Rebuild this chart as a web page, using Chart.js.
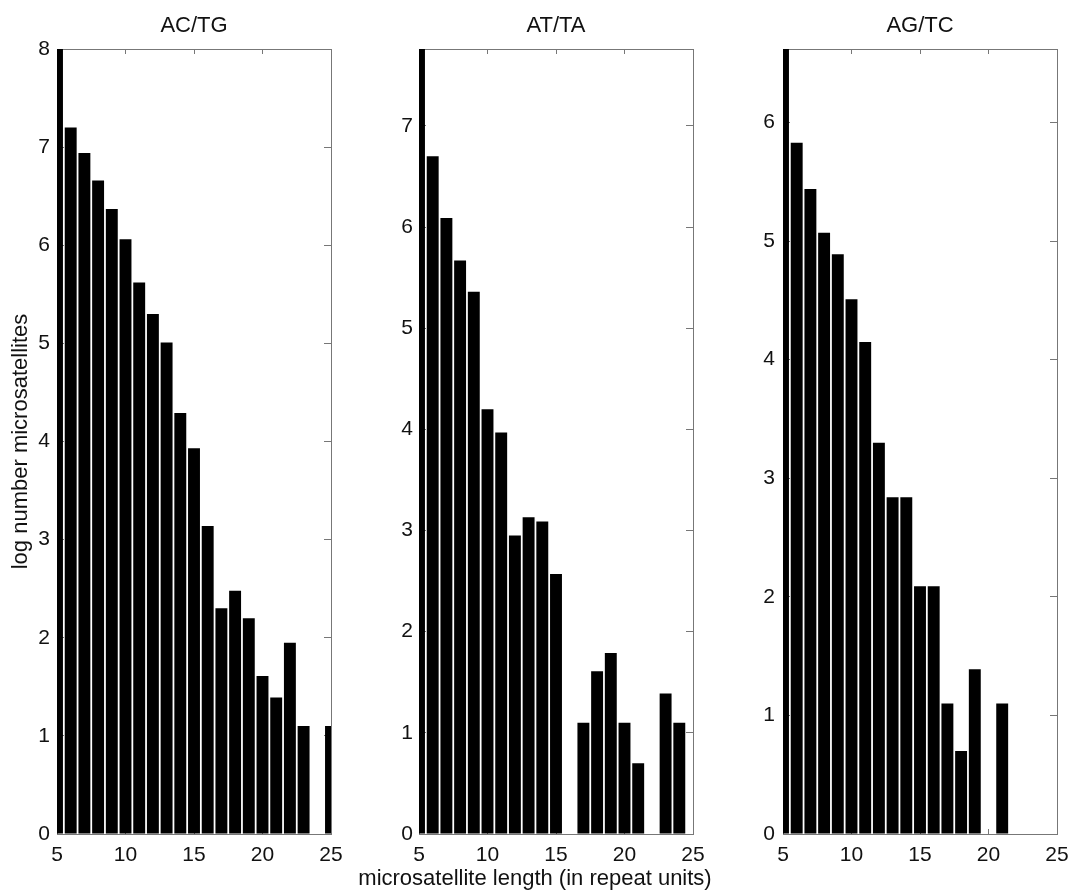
<!DOCTYPE html>
<html>
<head>
<meta charset="utf-8">
<script src="https://cdn.jsdelivr.net/npm/chart.js@4/dist/chart.umd.min.js"></script>
<style>
  html, body { margin: 0; padding: 0; background: #fff; }
  #wrap { position: relative; width: 1070px; height: 891px; overflow: hidden; }
  canvas { position: absolute; top: 0; }
</style>
</head>
<body>
<div id="wrap">
  <canvas id="c1" width="360" height="891" style="left:0px"></canvas>
  <canvas id="c2" width="380" height="891" style="left:339px"></canvas>
  <canvas id="c3" width="327" height="891" style="left:743px"></canvas>
</div>
<script>
// repeat lengths (bin centres)
const lengths = [5, 6, 7, 8, 9, 10, 11, 12, 13, 14, 15, 16, 17, 18, 19, 20, 21, 22, 23, 24, 25]

// log number of microsatellites per length
const acTg = [8.00, 7.20, 6.94, 6.66, 6.37, 6.06, 5.62, 5.30, 5.01, 4.29, 3.93, 3.14, 2.30, 2.48, 2.20, 1.61, 1.39, 1.95, 1.10, 0, 1.10]
const atTa = [7.76, 6.70, 6.09, 5.67, 5.36, 4.20, 3.97, 2.95, 3.13, 3.09, 2.57, 0, 1.10, 1.61, 1.79, 1.10, 0.70, 0, 1.39, 1.10, 0]
const agTc = [6.62, 5.83, 5.44, 5.07, 4.89, 4.51, 4.15, 3.30, 2.84, 2.84, 2.09, 2.09, 1.10, 0.70, 1.39, 0, 1.10, 0, 0, 0, 0]

const titles = ["AC/TG", "AT/TA", "AG/TC"]
const xTickStep = 5
const yLabel = "log number microsatellites"
const xLabel = "microsatellite length (in repeat units)"

const fontFamily = "'Liberation Sans', Arial, Helvetica, sans-serif"
Chart.defaults.font.family = fontFamily
Chart.defaults.font.size = 21
Chart.defaults.color = "#111"

const frame = "#777"

// x label is wider than the plot and centred on the whole figure,
// so draw it here instead of through the scale title (which squeezes it)
const bottomLabel = {
    id: "bottomLabel",
    afterDraw(chart, args, opts) {
        if (!opts.text) return
        const ctx = chart.ctx
        ctx.save()
        ctx.font = "22px " + fontFamily
        ctx.fillStyle = "#111"
        ctx.textAlign = "center"
        ctx.textBaseline = "middle"
        ctx.fillText(opts.text, opts.x, opts.y)
        ctx.restore()
    }
}

function panel(id, title, values, opts) {
    const ymax = Math.max(...values)
    const inward = (len) => ({ drawOnChartArea: false, drawTicks: true, tickLength: -len, color: frame, tickColor: frame, tickWidth: 1 })
    const edge = { display: true, color: frame, width: 1 }
    const noPad = (s) => { s.paddingLeft = 0; s.paddingRight = 0; s.paddingTop = 0; s.paddingBottom = 0 }

    return new Chart(document.getElementById(id), {
        type: "bar",
        data: {
            datasets: [{
                data: lengths.map((x, i) => ({ x: x, y: values[i] })),
                backgroundColor: "#000",
                borderWidth: 0,
                barPercentage: 0.87,
                categoryPercentage: 1
            }]
        },
        plugins: [bottomLabel],
        options: {
            responsive: false,
            animation: false,
            devicePixelRatio: 1,
            layout: { padding: { left: opts.padLeft, right: opts.padRight, top: 0, bottom: 0 } },
            plugins: {
                legend: { display: false },
                tooltip: { enabled: false },
                bottomLabel: { text: opts.xTitle, x: 196, y: 879 },
                title: {
                    display: true,
                    fullSize: false,
                    text: title,
                    color: "#111",
                    font: { size: 22, weight: "normal" },
                    padding: { top: 13, bottom: 9.6 }
                }
            },
            scales: {
                x: {
                    type: "linear",
                    position: "bottom",
                    min: 5, max: 25,
                    offset: false,
                    grid: Object.assign(inward(5), { offset: false }),
                    border: edge,
                    ticks: { stepSize: xTickStep, padding: 14, maxRotation: 0, includeBounds: false },
                    afterFit: (s) => { s.height = 57; noPad(s) }
                },
                xTop: {
                    axis: "x",
                    type: "linear",
                    position: "top",
                    min: 5, max: 25,
                    offset: false,
                    grid: Object.assign(inward(5), { offset: false }),
                    border: edge,
                    ticks: { display: false, stepSize: xTickStep, includeBounds: false },
                    afterFit: (s) => { s.height = 0; noPad(s) }
                },
                y: {
                    type: "linear",
                    position: "left",
                    min: 0, max: ymax,
                    grid: inward(7),
                    border: edge,
                    ticks: { stepSize: 1, padding: opts.yPad, includeBounds: false },
                    title: { display: !!opts.yTitle, text: opts.yTitle || "", color: "#111", font: { size: 22 }, padding: { top: 8, bottom: 0 } },
                    afterFit: (s) => { s.width = opts.yWidth; noPad(s) }
                },
                yRight: {
                    axis: "y",
                    type: "linear",
                    position: "right",
                    min: 0, max: ymax,
                    grid: inward(7),
                    border: edge,
                    ticks: { display: false, stepSize: 1, includeBounds: false },
                    afterFit: (s) => { s.width = 0; noPad(s) }
                }
            }
        }
    })
}

panel("c1", titles[0], acTg, { padLeft: 0, padRight: 29, yWidth: 57, yPad: 14, yTitle: yLabel })
panel("c2", titles[1], atTa, { padLeft: 40, padRight: 26, yWidth: 40, yPad: 13, xTitle: xLabel })
panel("c3", titles[2], agTc, { padLeft: 0, padRight: 13, yWidth: 40, yPad: 15 })
</script>
</body>
</html>
